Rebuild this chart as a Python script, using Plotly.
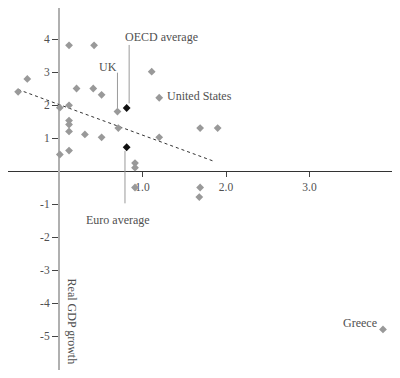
import plotly.graph_objects as go

# Country points (fiscal consolidation, real GDP growth)
fiscal = [-0.49, -0.38, 0.12, 0.42, 1.11, 0.21, 0.41, 0.51, 1.20, 0.01,
          0.12, 0.70, 0.12, 0.12, 0.12, 0.31, 0.51, 0.71, 1.20, 1.69,
          1.90, 0.01, 0.12, 0.91, 0.91, 0.91, 1.69, 1.68, 3.88]
growth = [2.40, 2.79, 3.81, 3.81, 3.01, 2.50, 2.50, 2.31, 2.22, 1.92,
          1.99, 1.80, 1.53, 1.41, 1.20, 1.11, 1.02, 1.30, 1.02, 1.30,
          1.30, 0.50, 0.62, 0.24, 0.10, -0.50, -0.50, -0.79, -4.80]

# Averages
avg_names = ["OECD average", "Euro average"]
avg_fiscal = [0.81, 0.81]
avg_growth = [1.91, 0.72]

# Trend line endpoints
trend_x = [-0.49, 1.85]
trend_y = [2.47, 0.30]

# Axis ticks
x_ticks = [1, 2, 3]
x_ticklabels = ["1.0", "2.0", "3.0"]
y_ticks = [4, 3, 2, 1, -1, -2, -3, -4, -5]
y_ticklabels = ["4", "3", "2", "1", "-1", "-2", "-3", "-4", "-5"]

x_range = [-0.611, 3.988]
y_range = [-6.03, 4.94]

FONT = "Liberation Serif"
TXT = "#505050"

fig = go.Figure()

fig.add_trace(go.Scatter(x=trend_x, y=trend_y, mode="lines",
                         line=dict(color="#333333", width=1, dash="3px,3px"),
                         hoverinfo="skip", showlegend=False))

# Leader lines (label callouts)
leaders = [
    ([0.84, 0.84], [3.82, 2.05]),   # OECD average
    ([0.70, 0.70], [2.98, 1.91]),   # UK
    ([0.79, 0.79], [0.61, -0.98]),  # Euro average
]
for lx, ly in leaders:
    fig.add_trace(go.Scatter(x=lx, y=ly, mode="lines",
                             line=dict(color="#9a9a9a", width=1),
                             hoverinfo="skip", showlegend=False))

fig.add_trace(go.Scatter(x=fiscal, y=growth, mode="markers",
                         marker=dict(symbol="diamond", size=6, color="#999999"),
                         showlegend=False))
fig.add_trace(go.Scatter(x=avg_fiscal, y=avg_growth, mode="markers",
                         marker=dict(symbol="diamond", size=6, color="#111111"),
                         text=avg_names, showlegend=False))

anns = [
    dict(x=1.23, y=4.07, text="OECD average", xanchor="center", yanchor="middle"),
    dict(x=0.59, y=3.16, text="UK", xanchor="center", yanchor="middle"),
    dict(x=1.27, y=2.28, text="United States", xanchor="left", yanchor="middle"),
    dict(x=0.71, y=-1.48, text="Euro average", xanchor="center", yanchor="middle"),
    dict(x=3.83, y=-4.61, text="Greece", xanchor="right", yanchor="middle"),
    dict(x=4.02, y=0.30, text="Fiscal consolidation", xanchor="right", yanchor="middle"),
    dict(x=0.15, y=-4.55, text="Real GDP growth", xanchor="center", yanchor="middle",
         textangle=90),
]
for a in anns:
    a.update(showarrow=False, xref="x", yref="y",
             font=dict(family=FONT, size=12, color=TXT))
    fig.add_annotation(**a)

xpos = (0 - y_range[0]) / (y_range[1] - y_range[0])
ypos = (0 - x_range[0]) / (x_range[1] - x_range[0])

fig.update_layout(
    width=384, height=362,
    margin=dict(l=0, r=0, t=0, b=0),
    plot_bgcolor="white", paper_bgcolor="white",
    font=dict(family=FONT, size=12, color=TXT),
    xaxis=dict(range=x_range, anchor="free", position=xpos,
               showline=True, linecolor="#333333", linewidth=1,
               showgrid=False, zeroline=False,
               tickvals=x_ticks, ticktext=x_ticklabels,
               ticks="outside", ticklen=5, tickcolor="#444444", tickwidth=1,
               tickfont=dict(family=FONT, size=11.5, color=TXT),
               layer="below traces"),
    yaxis=dict(range=y_range, anchor="free", position=ypos,
               showline=True, linecolor="#b0b0b0", linewidth=2,
               showgrid=False, zeroline=False,
               tickvals=y_ticks, ticktext=y_ticklabels,
               ticks="outside", ticklen=6, tickcolor="#444444", tickwidth=1,
               tickfont=dict(family=FONT, size=11.5, color=TXT),
               layer="below traces"),
)

fig.write_html("out.html")
